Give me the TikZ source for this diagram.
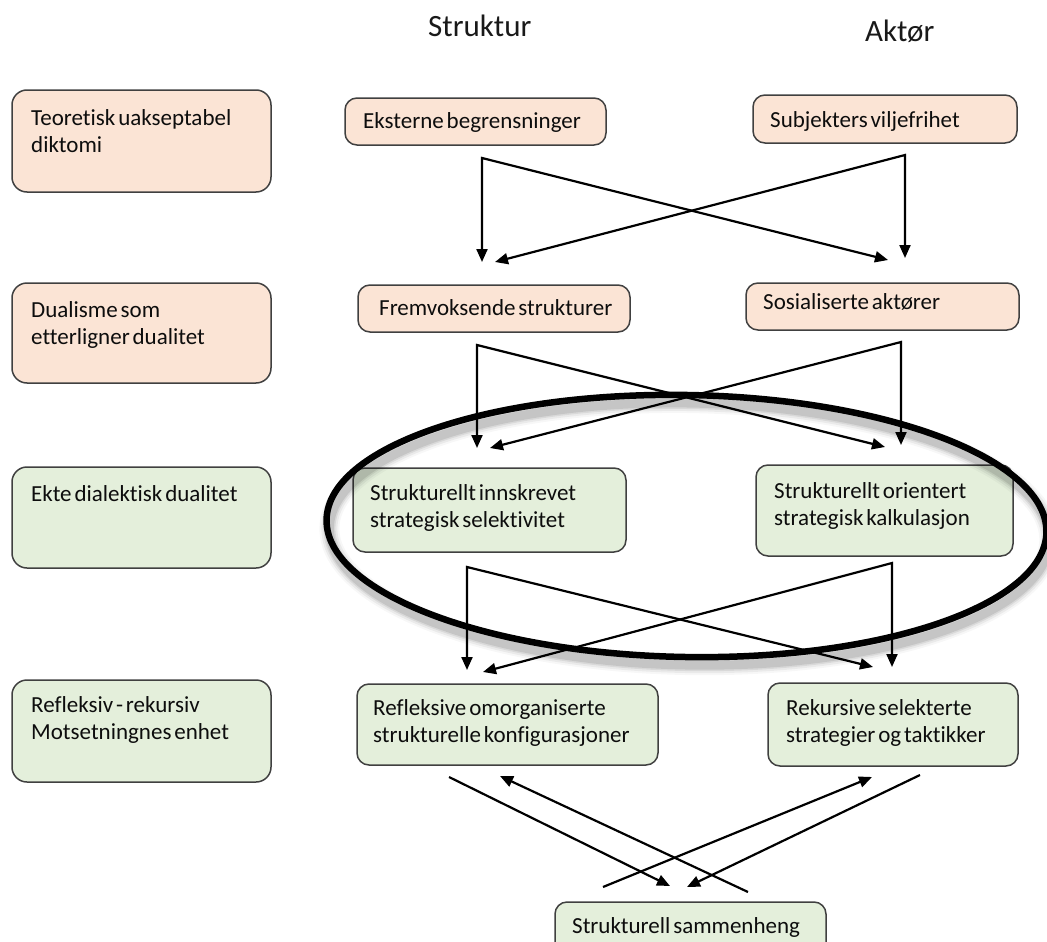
\documentclass[tikz,border=0pt]{standalone}
\usepackage{fontspec}
\setmainfont{Carlito}[Ligatures=NoCommon, WordSpace=0.55]
\usetikzlibrary{arrows.meta,calc}
\definecolor{peach}{HTML}{FBE4D5}
\definecolor{sage}{HTML}{E4EFDB}
\definecolor{edgegray}{HTML}{404040}
% two stacked lines whose reference point is the first baseline
\newcommand\twoln[2]{\vtop{\hbox{#1}\hbox{#2}}}
\tikzset{
  boxbase/.style={draw=edgegray, line width=1.5pt, inner sep=0pt},
  warmbox/.style={boxbase, fill=peach, rounded corners=12pt},
  coolbox/.style={boxbase, fill=sage, rounded corners=12pt},
  sidebox/.style={rounded corners=15pt},
  txt/.style={anchor=base west, inner sep=0pt, text=black!95, font=\fontsize{23}{27}\selectfont},
  title/.style={anchor=base west, inner sep=0pt, text=black!90, font=\fontsize{31}{36}\selectfont},
  fork/.style={line width=2.2pt, {Triangle[length=13pt,width=11pt]}-{Triangle[length=13pt,width=11pt]}},
  arrowline/.style={line width=2.2pt, -{Triangle[length=13pt,width=11pt]}},
  ring/.style={line width=6.5pt, black},
}
\begin{document}
\begin{tikzpicture}[x=1pt,y=-1pt]
\useasboundingbox (0,0) rectangle (1047,942);
\clip (0,0) rectangle (1047,942);

% column headings
\node[title] (hs) at (428,37) {Struktur};
\node[title] (ha) at (865,42) {Aktør};

% left column: levels
\node[warmbox, sidebox, minimum width=259pt, minimum height=102pt] (l1) at (141.5,141) {};
\node[warmbox, sidebox, minimum width=259pt, minimum height=100pt] (l2) at (141.5,333) {};
\node[coolbox, sidebox, minimum width=259pt, minimum height=101pt] (l3) at (141.5,517.5) {};
\node[coolbox, sidebox, minimum width=259pt, minimum height=102pt] (l4) at (141.5,731) {};
\node[txt] (l1t) at (31,125) {\twoln{Teoretisk uakseptabel}{diktomi}};
\node[txt] (l2t) at (31,317) {\twoln{Dualisme som}{etterligner dualitet}};
\node[txt] (l3t) at (31,501) {Ekte dialektisk dualitet};
\node[txt] (l4t) at (31,712) {\twoln{Refleksiv - rekursiv}{Motsetningnes enhet}};

% structure and actor boxes
\node[warmbox, minimum width=261pt, minimum height=47pt] (e1) at (475.5,121.5) {};
\node[warmbox, minimum width=264pt, minimum height=48pt] (a1) at (885,119) {};
\node[warmbox, minimum width=272pt, minimum height=47pt] (e2) at (494,308.5) {};
\node[warmbox, minimum width=273pt, minimum height=47pt] (a2) at (882.5,306.5) {};
\node[coolbox, minimum width=273pt, minimum height=84pt] (e3) at (489.5,510) {};
\node[coolbox, minimum width=257pt, minimum height=91pt] (a3) at (884.5,510.5) {};
\node[coolbox, minimum width=301pt, minimum height=81pt] (e4) at (507.5,724.5) {};
\node[coolbox, minimum width=250pt, minimum height=83pt] (a4) at (893,724.5) {};
\node[coolbox, minimum width=271pt, minimum height=58pt] (sm) at (690.5,931) {};

\node[txt] (e1t) at (363,128) {Eksterne begrensninger};
\node[txt] (a1t) at (770,127) {Subjekters viljefrihet};
\node[txt] (e2t) at (379,315) {Fremvoksende strukturer};
\node[txt] (a2t) at (763,309) {Sosialiserte aktører};
\node[txt] (e3t) at (370,500) {\twoln{Strukturellt innskrevet}{strategisk selektivitet}};
\node[txt] (a3t) at (774,498) {\twoln{Strukturellt orientert}{strategisk kalkulasjon}};
\node[txt] (e4t) at (373,715) {\twoln{Refleksive omorganiserte}{strukturelle konfigurasjoner}};
\node[txt] (a4t) at (786,715) {\twoln{Rekursive selekterte}{strategier og taktikker}};
\node[txt] (smt) at (572,933) {Strukturell sammenheng};

% crossing forks between the rows
\coordinate (p1) at (482,158); \coordinate (p1a) at (482,262); \coordinate (p1b) at (888,260);
\coordinate (q1) at (905,155); \coordinate (q1a) at (905,258); \coordinate (q1b) at (495,262);
\coordinate (p2) at (477,345); \coordinate (p2a) at (477,448); \coordinate (p2b) at (885,447);
\coordinate (q2) at (901,342); \coordinate (q2a) at (901,445); \coordinate (q2b) at (490,448);
\coordinate (p3) at (467,567); \coordinate (p3a) at (467,670); \coordinate (p3b) at (873,667);
\coordinate (q3) at (892,563); \coordinate (q3a) at (892,667); \coordinate (q3b) at (483,672);
\draw[fork] (p1a) -- (p1) -- (p1b);
\draw[fork] (q1a) -- (q1) -- (q1b);
\draw[fork] (p2a) -- (p2) -- (p2b);
\draw[fork] (q2a) -- (q2) -- (q2b);
\draw[fork] (p3a) -- (p3) -- (p3b);
\draw[fork] (q3a) -- (q3) -- (q3b);

% feedback arrows around the coherence box
\coordinate (u1) at (449,777); \coordinate (u1t) at (670,886);
\coordinate (u2) at (748,892); \coordinate (u2t) at (500,776);
\coordinate (u3) at (603,887); \coordinate (u3t) at (872,777);
\coordinate (u4) at (920,775); \coordinate (u4t) at (687,887);
\draw[arrowline] (u1) -- (u1t);
\draw[arrowline] (u2) -- (u2t);
\draw[arrowline] (u3) -- (u3t);
\draw[arrowline] (u4) -- (u4t);

% emphasis ring with a soft shadow
\coordinate (rc) at (686.5,526);
\foreach \w/\o in {20/0.03,16/0.05,12/0.07,9/0.09} {
  \draw[line width=\w pt, black, opacity=\o, rotate around={-1:(rc)}]
    ($(rc)+(3,8)$) ellipse [x radius=360, y radius=131];
}
\draw[ring, rotate around={-1:(rc)}] (rc) ellipse [x radius=360, y radius=131];
\end{tikzpicture}
\end{document}
